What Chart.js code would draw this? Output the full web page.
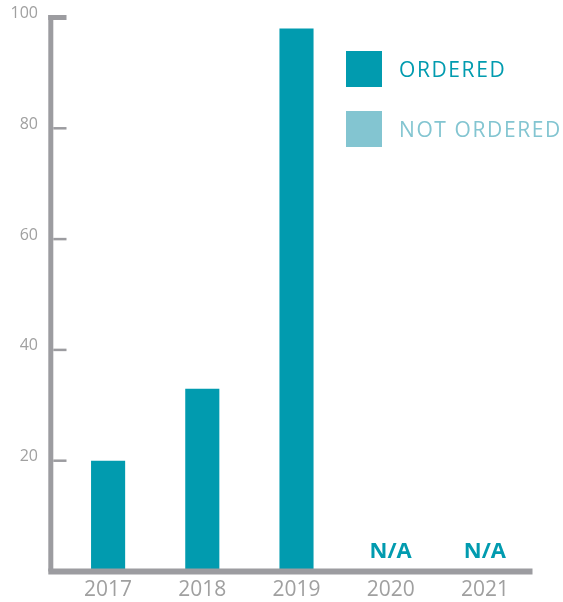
<!DOCTYPE html>
<html><head><meta charset="utf-8">
<script src="https://cdn.jsdelivr.net/npm/chart.js@4/dist/chart.umd.min.js"></script>
<style>html,body{margin:0;padding:0;background:#fff}#wrap{position:relative;width:563px;height:602px}</style>
</head><body><div id="wrap"><canvas id="c" width="563" height="602"></canvas></div>
<script>
const categories = ['2017', '2018', '2019', '2020', '2021'];
const seriesNames = ['ORDERED', 'NOT ORDERED'];
const orderedValues = [20, 33, 98, null, null];
const notOrderedValues = [0, 0, 0, null, null];
const yTickValues = [20, 40, 60, 80, 100];
const missingLabel = 'N/A';

const TEAL = '#019baf';
const LIGHT = '#83c5d1';
const GRAY = '#9c9ca0';
const LABEL = '#a0a0a0';
const FONT = '"Open Sans", sans-serif';

const axesPlugin = {
  id: 'axesPlugin',
  afterDatasetsDraw(chart) {
    const { ctx, chartArea: a, scales: { x, y } } = chart;
    const axX = a.left - 10.2;
    const zeroY = y.getPixelForValue(0);
    const topY = y.getPixelForValue(100);
    ctx.save();
    ctx.fillStyle = GRAY;
    ctx.fillRect(axX - 2.5, topY - 2.5, 5, zeroY - topY + 2.5);
    yTickValues.forEach(v => {
      const py = y.getPixelForValue(v);
      if (v === 100) ctx.fillRect(axX - 2.5, py - 2.5, a.left + 5.5 - (axX - 2.5), 5);
      else ctx.fillRect(axX + 2.5, py - 1.25, a.left + 5.5 - (axX + 2.5), 2.5);
    });
    ctx.fillRect(axX - 2.5, zeroY - 3, a.right + 0.5 - (axX - 2.5), 6);
    ctx.fillStyle = TEAL;
    ctx.font = 'bold 22px ' + FONT;
    ctx.textAlign = 'center';
    ctx.textBaseline = 'alphabetic';
    orderedValues.forEach((v, i) => {
      if (v === null) ctx.fillText(missingLabel, x.getPixelForValue(i), zeroY - 14);
    });
    const ds = chart.data.datasets;
    ctx.textAlign = 'left';
    ctx.textBaseline = 'middle';
    ctx.font = '21px ' + FONT;
    try { ctx.letterSpacing = '1.6px'; } catch (e) {}
    ds.forEach((d, i) => {
      const by = 51 + i * 60;
      ctx.fillStyle = d.backgroundColor;
      ctx.fillRect(346, by, 36, 36);
      ctx.fillText(d.label, 399, by + 20);
    });
    ctx.restore();
  }
};

new Chart(document.getElementById('c'), {
  type: 'bar',
  data: {
    labels: categories,
    datasets: [
      { label: seriesNames[0], data: orderedValues, backgroundColor: TEAL, grouped: false, barPercentage: 0.362, categoryPercentage: 1 },
      { label: seriesNames[1], data: notOrderedValues, backgroundColor: LIGHT, grouped: false, barPercentage: 0.362, categoryPercentage: 1 }
    ]
  },
  options: {
    responsive: false,
    devicePixelRatio: 1,
    animation: false,
    layout: { autoPadding: false, padding: { top: 17.5, right: 31, bottom: 0, left: 0 } },
    plugins: { legend: { display: false }, tooltip: { enabled: false } },
    scales: {
      x: {
        grid: { display: false, drawTicks: false },
        border: { display: false },
        ticks: { color: LABEL, font: { family: FONT, size: 21 }, padding: 6 },
        afterFit(s) { s.height = 30.5; s.paddingLeft = 0; s.paddingRight = 0; s.paddingTop = 0; s.paddingBottom = 0; }
      },
      y: {
        min: 0, max: 100,
        grid: { display: false, drawTicks: false },
        border: { display: false },
        afterBuildTicks(s) { s.ticks = yTickValues.map(v => ({ value: v })); },
        ticks: { color: LABEL, font: { family: FONT, size: 16 }, padding: 23, labelOffset: -4 },
        afterFit(s) { s.width = 61; s.paddingTop = 0; s.paddingBottom = 0; s.paddingLeft = 0; s.paddingRight = 0; }
      }
    }
  },
  plugins: [axesPlugin]
});
</script></body></html>
